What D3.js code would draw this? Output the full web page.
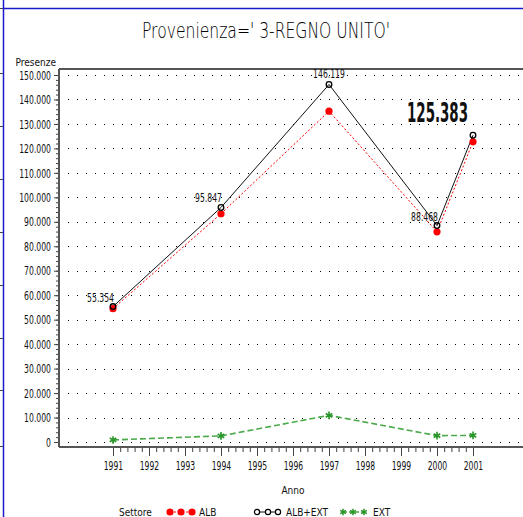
<!DOCTYPE html>
<html>
<head>
<meta charset="utf-8">
<title>Provenienza 3-REGNO UNITO</title>
<style type="text/css">
	body { margin: 0; background: white; }
	svg { display: block; }
	text { font-family: "Liberation Sans Narrow", "DejaVu Sans Condensed", "Arial Narrow", sans-serif; fill: #111; }
	.tick-lbl { font-size: 13px; }
	.pt-lbl { font-size: 13px; }
</style>
</head>
<body>
<svg id="chart"></svg>
<script src="https://d3js.org/d3.v7.min.js"></script>
<script type="text/javascript">
	// data
	var years = [1991, 1994, 1997, 2000, 2001];
	var alb = [54500, 93300, 135200, 85900, 122700];
	var albExt = [55354, 95847, 146119, 88468, 125383];
	var ext = [850, 2500, 10900, 2600, 2700];
	var labelled = [0, 1, 2, 3]; // points of ALB+EXT with a value label
	var yearTicks = d3.range(1991, 2002);
	var yTicks = d3.range(0, 150001, 10000);

	var W = 523, H = 517;
	var svg = d3.select("#chart").attr("width", W).attr("height", H);

	var it = d3.formatLocale({decimal: ",", thousands: ".", grouping: [3], currency: ["", ""]});
	var fmt = it.format(",d");

	// squeeze narrow text: digits ~4.9px, dot ~2.4px
	var narrow = s => s.replace(/[^0-9]/g, "").length * 4.9 + s.replace(/[0-9]/g, "").length * 2.4;

	var x = d3.scaleLinear().domain([1991, 2001]).range([113, 473]);
	var y = d3.scaleLinear().domain([0, 150000]).range([442, 75]);

	var axisX0 = 59, axisY0 = 447, plotTop = 69;

	// page frame
	svg.append("line").attr("x1", 3.5).attr("x2", 3.5).attr("y1", 0).attr("y2", H)
		.attr("stroke", "#1a1acc").attr("stroke-width", 1.5);
	svg.append("line").attr("x1", 3).attr("x2", W).attr("y1", 8.5).attr("y2", 8.5)
		.attr("stroke", "#1a1acc").attr("stroke-width", 1.5);
	svg.selectAll(".side").data([8, 73, 126, 179, 232, 285, 338, 390, 446])
		.enter().append("line")
		.attr("x1", 0).attr("x2", 3).attr("y1", d => d + 0.5).attr("y2", d => d + 0.5)
		.attr("stroke", "#444");

	// title
	svg.append("text")
		.attr("x", 266).attr("y", 38)
		.attr("text-anchor", "middle")
		.attr("textLength", 248).attr("lengthAdjust", "spacingAndGlyphs")
		.style("font-family", "'DejaVu Sans', sans-serif")
		.style("font-weight", "200")
		.style("font-size", "21px").style("fill", "#000")
		.text("Provenienza=' 3-REGNO UNITO'");

	// dotted grid
	svg.selectAll(".grid").data(yTicks)
		.enter().append("line")
		.attr("x1", 68).attr("x2", W)
		.attr("y1", d => Math.round(y(d)) + 0.5).attr("y2", d => Math.round(y(d)) + 0.5)
		.attr("stroke", "#000").attr("stroke-width", 1)
		.attr("stroke-dasharray", "1,8");

	// frame lines
	svg.append("line").attr("x1", axisX0).attr("x2", W).attr("y1", plotTop).attr("y2", plotTop)
		.attr("stroke", "#555").attr("stroke-width", 2);

	// y axis
	var yMinor = svg.append("g").attr("transform", `translate(${axisX0},0)`)
		.call(d3.axisLeft(y).tickValues(d3.range(0, 150001, 2000)).tickSize(3).tickFormat(""));
	var yAxis = svg.append("g").attr("transform", `translate(${axisX0},0)`)
		.call(d3.axisLeft(y).tickValues(yTicks).tickSize(5).tickPadding(3).tickFormat(fmt));
	yAxis.selectAll("text").attr("class", "tick-lbl")
		.attr("textLength", d => narrow(fmt(d))).attr("lengthAdjust", "spacingAndGlyphs");
	[yMinor, yAxis].forEach(g => {
		g.select(".domain").remove();
		g.selectAll("line").attr("stroke", "#444");
	});
	svg.append("line").attr("x1", axisX0).attr("x2", axisX0).attr("y1", plotTop).attr("y2", axisY0)
		.attr("stroke", "#555").attr("stroke-width", 2);

	svg.append("text").attr("x", 56).attr("y", 66).attr("text-anchor", "end")
		.style("font-size", "10px").text("Presenze");

	// x axis
	var xMinor = svg.append("g").attr("transform", `translate(0,${axisY0})`)
		.call(d3.axisBottom(x).tickValues(d3.range(1991, 2001.01, 0.2)).tickSize(5).tickFormat(""));
	var xAxis = svg.append("g").attr("transform", `translate(0,${axisY0})`)
		.call(d3.axisBottom(x).tickValues(yearTicks).tickSize(9).tickPadding(5).tickFormat(d3.format("d")));
	xAxis.selectAll("text").attr("class", "tick-lbl")
		.attr("textLength", 19.5).attr("lengthAdjust", "spacingAndGlyphs");
	[xMinor, xAxis].forEach(g => {
		g.select(".domain").remove();
		g.selectAll("line").attr("stroke", "#444");
	});
	svg.append("line").attr("x1", axisX0).attr("x2", W).attr("y1", axisY0).attr("y2", axisY0)
		.attr("stroke", "#555").attr("stroke-width", 2);

	svg.append("text").attr("x", 293).attr("y", 494).attr("text-anchor", "middle")
		.style("font-size", "10px").text("Anno");

	// series
	var line = d3.line().x(d => x(d[0])).y(d => y(d[1]));
	var zip = vals => years.map((yr, i) => [yr, vals[i]]);

	var green = "#2a962a";
	var star = d3.symbolAsterisk || d3.symbolCross;

	svg.append("path").datum(zip(ext)).attr("d", line)
		.attr("fill", "none").attr("stroke", "#4aaa4a").attr("stroke-width", 1.6)
		.attr("stroke-dasharray", "6,3");
	svg.append("path").datum(zip(alb)).attr("d", line)
		.attr("fill", "none").attr("stroke", "#ff0000").attr("stroke-width", 1)
		.attr("stroke-dasharray", "2,2");
	svg.append("path").datum(zip(albExt)).attr("d", line)
		.attr("fill", "none").attr("stroke", "#111").attr("stroke-width", 1);

	svg.selectAll(".p-ext").data(zip(ext)).enter().append("path")
		.attr("transform", d => `translate(${x(d[0])},${y(d[1])})`)
		.attr("d", d3.symbol().type(star).size(40))
		.attr("fill", "none").attr("stroke", green).attr("stroke-width", 1.6);
	svg.selectAll(".p-alb").data(zip(alb)).enter().append("circle")
		.attr("cx", d => x(d[0])).attr("cy", d => y(d[1])).attr("r", 3.6)
		.attr("fill", "#ff0000");
	svg.selectAll(".p-tot").data(zip(albExt)).enter().append("circle")
		.attr("cx", d => x(d[0])).attr("cy", d => y(d[1])).attr("r", 2.8)
		.attr("fill", "none").attr("stroke", "#000").attr("stroke-width", 1.3);

	// value labels
	svg.selectAll(".pt-lbl").data(labelled).enter().append("text")
		.attr("class", "pt-lbl")
		.attr("x", i => i == 2 ? x(years[i]) : x(years[i]) + 1)
		.attr("y", i => y(albExt[i]) - (i == 2 ? 6 : 5))
		.attr("text-anchor", i => i == 2 ? "middle" : "end")
		.attr("textLength", i => narrow(fmt(albExt[i])))
		.attr("lengthAdjust", "spacingAndGlyphs")
		.text(i => fmt(albExt[i]));

	var last = albExt.length - 1;
	svg.append("text")
		.attr("x", 407).attr("y", 122)
		.attr("textLength", 61).attr("lengthAdjust", "spacingAndGlyphs")
		.style("font-size", "27px").style("font-weight", "bold")
		.text(fmt(albExt[last]));

	// legend
	var legY = 512;
	svg.append("text").attr("x", 119).attr("y", legY + 4).style("font-size", "10px").text("Settore");

	var leg = svg.append("g");
	leg.append("line").attr("x1", 170).attr("x2", 192).attr("y1", legY).attr("y2", legY)
		.attr("stroke", "#ff0000").attr("stroke-dasharray", "2,2");
	leg.selectAll(".l1").data([170, 181, 192]).enter().append("circle")
		.attr("cx", d => d).attr("cy", legY).attr("r", 3.6).attr("fill", "#ff0000");
	leg.append("text").attr("x", 199).attr("y", legY + 4).style("font-size", "10px").text("ALB");

	leg.append("line").attr("x1", 255).attr("x2", 279).attr("y1", legY).attr("y2", legY)
		.attr("stroke", "#111");
	leg.selectAll(".l2").data([257, 268, 278]).enter().append("circle")
		.attr("cx", d => d).attr("cy", legY).attr("r", 2.6)
		.attr("fill", "white").attr("stroke", "#000").attr("stroke-width", 1.2);
	leg.append("text").attr("x", 286).attr("y", legY + 4).style("font-size", "10px").text("ALB+EXT");

	leg.append("line").attr("x1", 343).attr("x2", 364).attr("y1", legY).attr("y2", legY)
		.attr("stroke", "#4aaa4a").attr("stroke-width", 1.6).attr("stroke-dasharray", "4,2");
	leg.selectAll(".l3").data([343, 353, 364]).enter().append("path")
		.attr("transform", d => `translate(${d},${legY})`)
		.attr("d", d3.symbol().type(star).size(30))
		.attr("fill", "none").attr("stroke", green).attr("stroke-width", 1.5);
	leg.append("text").attr("x", 373).attr("y", legY + 4).style("font-size", "10px").text("EXT");
</script>
</body>
</html>
